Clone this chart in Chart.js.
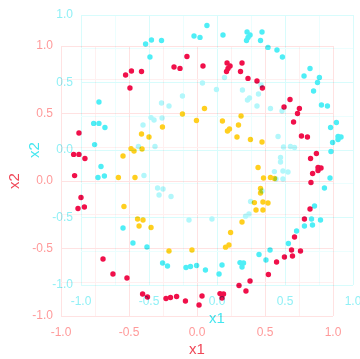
<!DOCTYPE html>
<html>
<head>
<meta charset="utf-8">
<script src="https://cdn.jsdelivr.net/npm/chart.js@4"></script>
<style>
  html, body { margin: 0; padding: 0; background: #fff; overflow: hidden; }
  #wrap { position: relative; width: 360px; height: 359px; }
  canvas { position: absolute; }
  #redChart { left: 0; top: 0; }
  #cyanChart { left: 20px; top: -31px; mix-blend-mode: multiply; }
</style>
</head>
<body>
<div id="wrap">
  <canvas id="redChart" width="360" height="359"></canvas>
  <canvas id="cyanChart" width="360" height="359"></canvas>
</div>
<script>
// same data drawn twice: outer ring and inner ring
const outerX = [-0.868, -0.907, -0.868, -0.824, -0.900, -0.525, -0.482, -0.408, -0.493, -0.169, -0.125, -0.074, 0.044,
  0.221, 0.243, 0.217, 0.228, 0.331, 0.320, 0.375, 0.441, 0.481, 0.684, 0.640, 0.753, 0.739, 0.710, 0.768, 0.812,
  0.878, 0.835, 0.912, 0.890, 0.890, 0.850, 0.838, 0.831, 0.790, 0.717, 0.695, 0.761, 0.702, 0.643, 0.585, 0.525,
  0.390, 0.309, 0.360, 0.169, 0.195, 0.184, 0.037, 0.015, -0.085, -0.150, -0.195, -0.228, -0.364, -0.400, -0.515,
  -0.618, -0.691, -0.853, -0.828, -0.875];
const outerY = [0.356, 0.197, 0.197, 0.167, 0.040, 0.785, 0.815, 0.811, 0.689, 0.844, 0.834, 0.922, 0.852,
  0.874, 0.852, 0.811, 0.834, 0.874, 0.811, 0.760, 0.741, 0.689, 0.604, 0.548, 0.537, 0.500, 0.437, 0.333, 0.326,
  0.204, 0.167, 0.096, 0.100, 0.078, 0.056, -0.011, -0.207, -0.281, -0.415, -0.511, -0.519, -0.556, -0.563, -0.600, -0.693,
  -0.741, -0.774, -0.815, -0.834, -0.837, -0.867, -0.852, -0.919, -0.889, -0.855, -0.863, -0.870, -0.859, -0.837, -0.719,
  -0.689, -0.578, -0.122, -0.193, -0.204];

const innerX = [-0.254, -0.408, -0.353, -0.485, -0.463, -0.404, -0.544, -0.578, -0.456, 0.055, -0.107, -0.004, 0.187,
  0.324, 0.305, 0.239, 0.224, 0.294, 0.393, 0.478, 0.449, 0.489, 0.540, 0.570, -0.537, -0.437, -0.397, -0.426, -0.338,
  -0.206, 0.467, 0.467, 0.422, 0.485, 0.522, 0.434, 0.485, 0.331, 0.247, 0.235, 0.210, -0.037];
const innerY = [0.400, 0.348, 0.326, 0.240, 0.222, 0.237, 0.185, 0.026, 0.026, 0.537, 0.496, 0.448, 0.444,
  0.481, 0.415, 0.385, 0.370, 0.326, 0.307, 0.289, 0.100, 0.022, 0.026, 0.018, -0.189, -0.281, -0.289, -0.333, -0.344,
  -0.519, -0.055, -0.089, -0.160, -0.156, -0.163, -0.215, -0.215, -0.304, -0.381, -0.474, -0.490, -0.511];

const tickValues = [-1, -0.5, 0, 0.5, 1];

function pts(xs, ys) {
  return xs.map((x, i) => ({ x: x, y: ys[i] }));
}

function isMajor(v) {
  return tickValues.some(t => Math.abs(t - v) < 1e-6);
}

function axis(pos, title, c) {
  return {
    type: 'linear',
    position: pos,
    min: -1,
    max: 1,
    ticks: {
      stepSize: 0.25,
      autoSkip: false,
      maxRotation: 0,
      padding: pos === 'bottom' ? 9 : 8,
      color: c.tick,
      font: { family: 'Liberation Sans', size: 12 },
      callback: v => isMajor(v) ? v.toFixed(1) : ''
    },
    grid: {
      drawTicks: false,
      color: ctx => isMajor(ctx.tick.value) ? c.grid : c.minor,
      lineWidth: 1
    },
    border: { display: false },
    title: {
      display: true,
      text: title,
      color: c.title,
      font: { family: 'Liberation Sans', size: 15 },
      padding: pos === 'bottom' ? { top: 0, bottom: 0 } : { top: 6, bottom: 0 }
    },
    afterFit: s => {
      if (pos === 'bottom') s.height = 43; else s.width = 61;
    }
  };
}

function makeChart(id, c) {
  return new Chart(document.getElementById(id), {
    type: 'scatter',
    data: {
      datasets: [
        { data: pts(outerX, outerY), backgroundColor: c.outer, pointRadius: 2.7, borderWidth: 0 },
        { data: pts(innerX, innerY), backgroundColor: c.inner, pointRadius: 2.7, borderWidth: 0 }
      ]
    },
    options: {
      responsive: false,
      animation: false,
      devicePixelRatio: 1,
      layout: { padding: { top: 46, right: 27, bottom: 0, left: 0 } },
      plugins: { legend: { display: false }, tooltip: { enabled: false } },
      scales: {
        x: axis('bottom', 'x1', c),
        y: axis('left', 'x2', c)
      }
    }
  });
}

makeChart('redChart', {
  outer: '#f0104a', inner: '#ffcf1f',
  tick: '#ff9a9a', title: '#f04858', grid: '#ffe2e2', minor: '#fff0f0'
});
makeChart('cyanChart', {
  outer: '#4eeef6', inner: '#b2f7fb',
  tick: '#90f0f6', title: '#44e6f0', grid: '#d8fcfc', minor: '#ecfefe'
});
</script>
</body>
</html>
